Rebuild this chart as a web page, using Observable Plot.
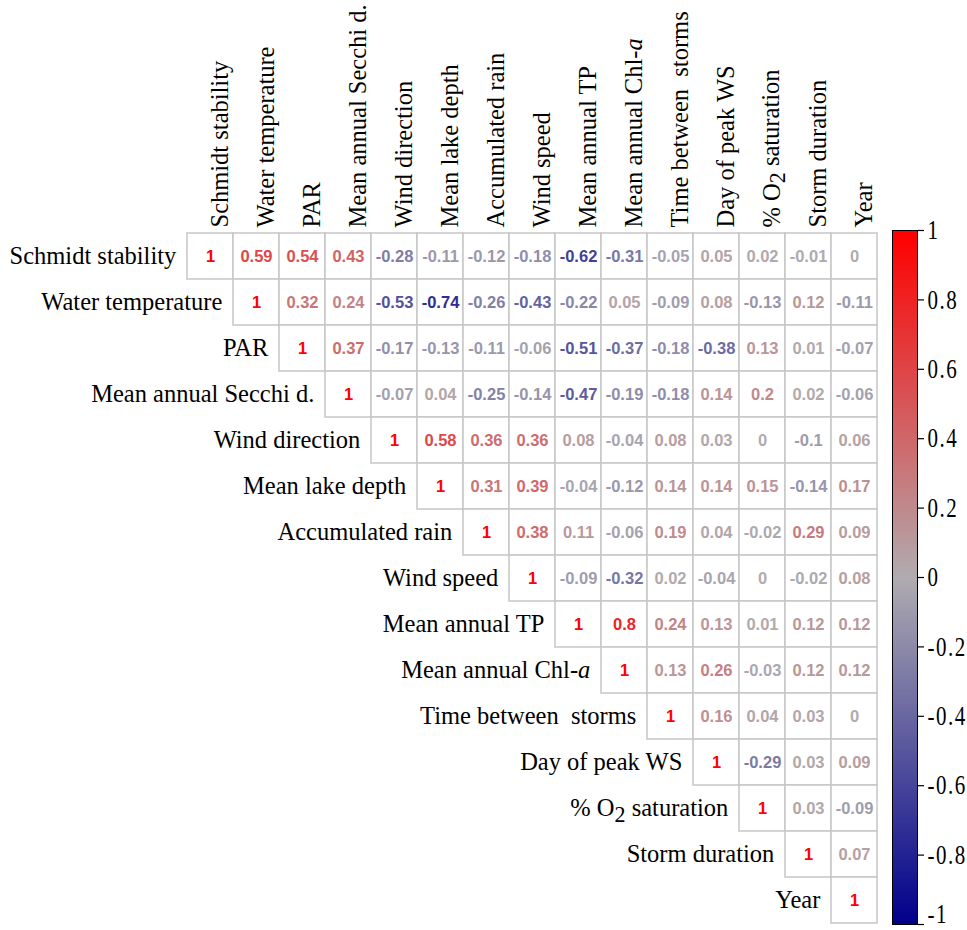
<!DOCTYPE html>
<html>
<head>
<meta charset="utf-8">
<script src="https://cdn.jsdelivr.net/npm/d3@7"></script>
<script src="https://cdn.jsdelivr.net/npm/@observablehq/plot@0.6"></script>
<style>
  body { margin: 0; background: white; }
  #wrap { position: relative; width: 967px; height: 930px; overflow: hidden; background: white; }
  #wrap svg { position: absolute; top: 0; overflow: visible; }
  #wrap text { white-space: pre; }
</style>
</head>
<body>
<div id="wrap"></div>
<script>
// Variables (row and column order)
const variables = [
  "Schmidt stability", "Water temperature", "PAR", "Mean annual Secchi d.",
  "Wind direction", "Mean lake depth", "Accumulated rain", "Wind speed",
  "Mean annual TP", "Mean annual Chl-a", "Time between  storms", "Day of peak WS",
  "% O2 saturation", "Storm duration", "Year"
];

// Upper-triangle correlations: row i lists values for columns i..14
const rowSchmidt   = [1, 0.59, 0.54, 0.43, -0.28, -0.11, -0.12, -0.18, -0.62, -0.31, -0.05, 0.05, 0.02, -0.01, 0];
const rowWaterTemp = [1, 0.32, 0.24, -0.53, -0.74, -0.26, -0.43, -0.22, 0.05, -0.09, 0.08, -0.13, 0.12, -0.11];
const rowPAR       = [1, 0.37, -0.17, -0.13, -0.11, -0.06, -0.51, -0.37, -0.18, -0.38, 0.13, 0.01, -0.07];
const rowSecchi    = [1, -0.07, 0.04, -0.25, -0.14, -0.47, -0.19, -0.18, 0.14, 0.2, 0.02, -0.06];
const rowWindDir   = [1, 0.58, 0.36, 0.36, 0.08, -0.04, 0.08, 0.03, 0, -0.1, 0.06];
const rowDepth     = [1, 0.31, 0.39, -0.04, -0.12, 0.14, 0.14, 0.15, -0.14, 0.17];
const rowRain      = [1, 0.38, 0.11, -0.06, 0.19, 0.04, -0.02, 0.29, 0.09];
const rowWindSpeed = [1, -0.09, -0.32, 0.02, -0.04, 0, -0.02, 0.08];
const rowTP        = [1, 0.8, 0.24, 0.13, 0.01, 0.12, 0.12];
const rowChla      = [1, 0.13, 0.26, -0.03, 0.12, 0.12];
const rowTimeStorm = [1, 0.16, 0.04, 0.03, 0];
const rowPeakWS    = [1, -0.29, 0.03, 0.09];
const rowO2        = [1, 0.03, -0.09];
const rowDuration  = [1, 0.07];
const rowYear      = [1];

const colorbarTicks = [-1, -0.8, -0.6, -0.4, -0.2, 0, 0.2, 0.4, 0.6, 0.8, 1];
const colorDomain = [-1, 0, 1];
const colorRange = ["#00008B", "#B0ACB0", "#FF0000"];

const rows = [rowSchmidt, rowWaterTemp, rowPAR, rowSecchi, rowWindDir, rowDepth, rowRain,
  rowWindSpeed, rowTP, rowChla, rowTimeStorm, rowPeakWS, rowO2, rowDuration, rowYear];

const cells = [];
rows.forEach((r, i) => r.forEach((v, k) => cells.push({row: variables[i], col: variables[i + k], value: v})));

const W = 967, H = 930;
const mL = 184, mR = 87, mT = 231, mB = 5;
const bw = (W - mL - mR) / variables.length;

const serif = "'Liberation Serif', 'Times New Roman', serif";
const sans = "'Liberation Sans', Arial, sans-serif";

const main = Plot.plot({
  width: W, height: H,
  marginLeft: mL, marginRight: mR, marginTop: mT, marginBottom: mB,
  style: {background: "transparent", overflow: "visible"},
  x: {domain: variables, padding: 0, axis: null},
  y: {domain: variables, padding: 0, axis: null},
  color: {type: "linear", domain: colorDomain, range: colorRange, interpolate: "rgb"},
  marks: [
    Plot.cell(cells, {x: "col", y: "row", fill: "white", stroke: "#c6c6c6", strokeWidth: 1.5}),
    Plot.text(cells, {x: "col", y: "row", text: d => String(d.value), fill: "value",
      fontFamily: sans, fontWeight: "bold", fontSize: 16.5}),
    Plot.text(variables, {x: d => d, y: d => d, text: d => d, dx: -bw / 2 - 11, textAnchor: "end",
      fontFamily: serif, fontSize: 24.5, fill: "black"}),
    Plot.text(variables, {x: d => d, frameAnchor: "top", dy: -4, rotate: -90, textAnchor: "start",
      text: d => d, fontFamily: serif, fontSize: 24.5, fill: "black"})
  ]
});

// rich text: italic "a" in Chl-a, subscript 2 in O2
const NS = "http://www.w3.org/2000/svg";
main.querySelectorAll("text").forEach(t => {
  const s = t.textContent;
  if (s === "Mean annual Chl-a") {
    t.textContent = "Mean annual Chl-";
    const ts = document.createElementNS(NS, "tspan");
    ts.setAttribute("font-style", "italic");
    ts.textContent = "a";
    t.appendChild(ts);
  } else if (s === "% O2 saturation") {
    t.textContent = "% O";
    const sub = document.createElementNS(NS, "tspan");
    sub.setAttribute("dy", "0.25em");
    sub.setAttribute("font-size", "0.9em");
    sub.textContent = "2";
    const rest = document.createElementNS(NS, "tspan");
    rest.setAttribute("dy", "-0.25em");
    rest.textContent = " saturation";
    t.appendChild(sub);
    t.appendChild(rest);
  }
});

const bar = Plot.plot({
  width: 87, height: H,
  marginLeft: 12, marginRight: 50, marginTop: 230, marginBottom: 6,
  style: {background: "transparent", fontFamily: serif, fontSize: "21px", overflow: "visible", color: "black"},
  x: {domain: [0, 1], axis: null},
  y: {domain: [-1, 1], axis: null},
  color: {type: "linear", domain: colorDomain, range: colorRange, interpolate: "rgb"},
  marks: [
    Plot.raster({fill: (x, y) => y, x1: 0, x2: 1, y1: -1, y2: 1, width: 1, height: 300, imageRendering: "auto"}),
    Plot.frame({stroke: "black", strokeWidth: 1}),
    Plot.axisY(colorbarTicks, {anchor: "right", tickSize: 6, tickPadding: 4, tickFormat: d => String(d),
      fontSize: 21, fontFamily: serif, stroke: "black", strokeWidth: 1.2})
  ]
});

// tall, widely spaced tick labels as in the reference
bar.querySelectorAll("text").forEach(t => {
  const tr = t.getAttribute("transform") || "";
  const extra = t.textContent === "-1" ? " translate(0,-10)" : "";
  t.setAttribute("transform", tr + extra + " scale(1,1.3)");
  t.setAttribute("letter-spacing", "1.5");
});

const wrap = document.getElementById("wrap");
main.style.left = "0px";
bar.style.left = "880px";
wrap.appendChild(main);
wrap.appendChild(bar);
</script>
</body>
</html>
